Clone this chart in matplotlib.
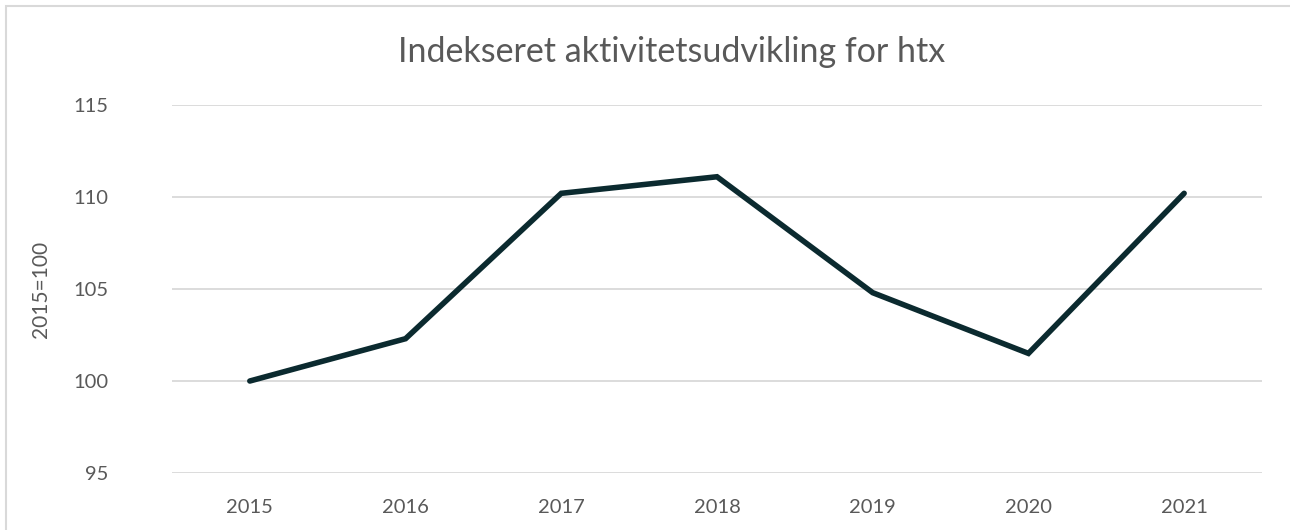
import numpy as np
import matplotlib.pyplot as plt
from matplotlib.patches import Rectangle

# Indeks-data (2015=100)
years = ['2015', '2016', '2017', '2018', '2019', '2020', '2021']
index_values = [100.0, 102.3, 110.2, 111.1, 104.8, 101.5, 110.2]

plt.rcParams['font.family'] = ['Lato', 'DejaVu Sans']
text_color = '#595959'
grid_color = '#d9d9d9'
line_color = '#0b2a2f'

fig = plt.figure(figsize=(12.9, 5.3), dpi=100)
ax = fig.add_axes([0.1333, 0.1075, 0.845, 0.6944])

# ydre ramme som i Excel
fig.patches.append(Rectangle((6 / 1290, -0.1), 1.2, 1 - 6 / 530 + 0.1,
                             transform=fig.transFigure, fill=False,
                             edgecolor=grid_color, linewidth=1.5))

x = np.arange(len(years))
ax.plot(x, index_values, color=line_color, linewidth=4.0,
        solid_joinstyle='miter', solid_capstyle='round')

ax.set_xlim(-0.5, len(years) - 0.5)
ax.set_ylim(95, 115)
ax.set_yticks([95, 100, 105, 110, 115])
ax.set_xticks(x)
ax.set_xticklabels(years)
ax.grid(axis='y', color=grid_color, linewidth=1.3)
ax.set_axisbelow(True)
for s in ax.spines.values():
    s.set_visible(False)
ax.tick_params(length=0, labelsize=14.5, labelcolor=text_color)
ax.tick_params(axis='y', pad=46)
ax.tick_params(axis='x', pad=19)

ax.set_ylabel('2015=100', fontsize=15, color=text_color, labelpad=16)
fig.text(0.5205, 0.902, 'Indekseret aktivitetsudvikling for htx', ha='center',
         va='center', fontsize=24.5, color=text_color)

fig.savefig('out.png', dpi=100)
